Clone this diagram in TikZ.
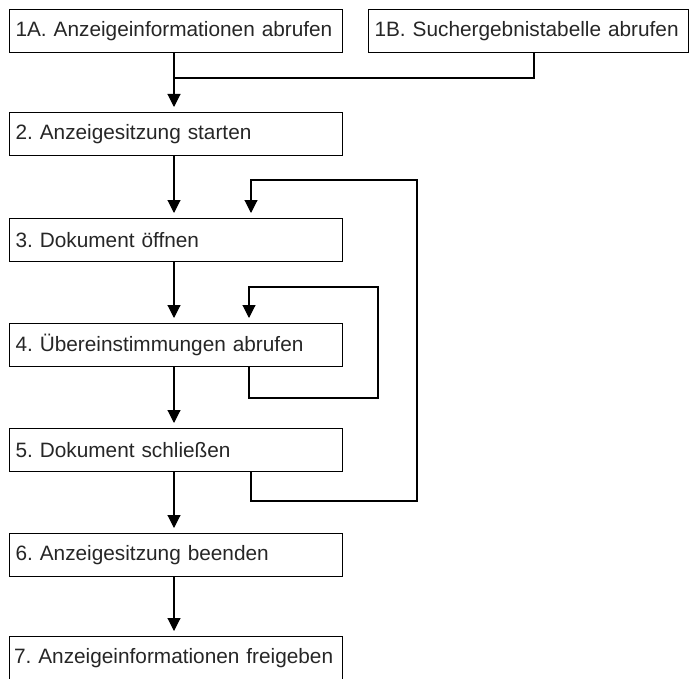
\documentclass[tikz,border=0pt]{standalone}
\usepackage{fontspec}
\setmainfont{Liberation Sans}
\usetikzlibrary{arrows.meta}
\frenchspacing
\begin{document}
\begin{tikzpicture}[x=1pt,y=-1pt,
  box/.style={draw,line width=1.1pt,anchor=north west,minimum height=43pt,
    text width=#1,inner xsep=4.5pt,inner ysep=0pt,align=left,
    font=\fontsize{20.8}{24}\selectfont,text=black!85},
  box/.default=324pt,
  conn/.style={line width=1.1pt},
  arr/.style={conn,-{Triangle[width=13pt,length=13pt]},shorten >=5pt}]
\useasboundingbox (0,0) rectangle (690,679);
\node[box] (b1a) at (9,9) {\hspace*{1.5pt}1A. Anzeigeinformationen abrufen};
\node[box=311pt] (b1b) at (368,9) {\hspace*{1.5pt}1B. Suchergebnistabelle abrufen};
\node[box] (b2) at (9,112) {\hspace*{1.5pt}2. Anzeigesitzung starten};
\node[box] (b3) at (9,218) {\hspace*{1.5pt}3. Dokument öffnen};
\node[box] (b4) at (9,323) {\hspace*{1.5pt}4. Übereinstimmungen abrufen};
\node[box] (b5) at (9,428) {\hspace*{1.5pt}5. Dokument schließen};
\node[box] (b6) at (9,533) {\hspace*{1.5pt}6. Anzeigesitzung beenden};
\node[box] (b7) at (9,636) {7. Anzeigeinformationen freigeben};
% coordinates for connector columns
\coordinate (m) at (174,0);
\coordinate (j1) at (534,78);
\coordinate (l1) at (251,180);
\coordinate (l2) at (417,180);
\coordinate (l3) at (417,501);
\coordinate (l4) at (251,501);
\coordinate (k1) at (249,287);
\coordinate (k2) at (378,287);
\coordinate (k3) at (378,398);
\coordinate (k4) at (249,398);
% main flow
\draw[arr] (b1a.south -| m) -- (b2.north -| m);
\draw[conn] (b1b.south -| j1) -- (j1) -- (j1 -| m);
\draw[arr] (b2.south -| m) -- (b3.north -| m);
\draw[arr] (b3.south -| m) -- (b4.north -| m);
\draw[arr] (b4.south -| m) -- (b5.north -| m);
\draw[arr] (b5.south -| m) -- (b6.north -| m);
\draw[arr] (b6.south -| m) -- (b7.north -| m);
% loop 5 -> 3
\draw[arr] (b5.south -| l4) -- (l4) -- (l3) -- (l2) -- (l1) -- (b3.north -| l1);
% loop 4 -> 4
\draw[arr] (b4.south -| k4) -- (k4) -- (k3) -- (k2) -- (k1) -- (b4.north -| k1);
\end{tikzpicture}
\end{document}
